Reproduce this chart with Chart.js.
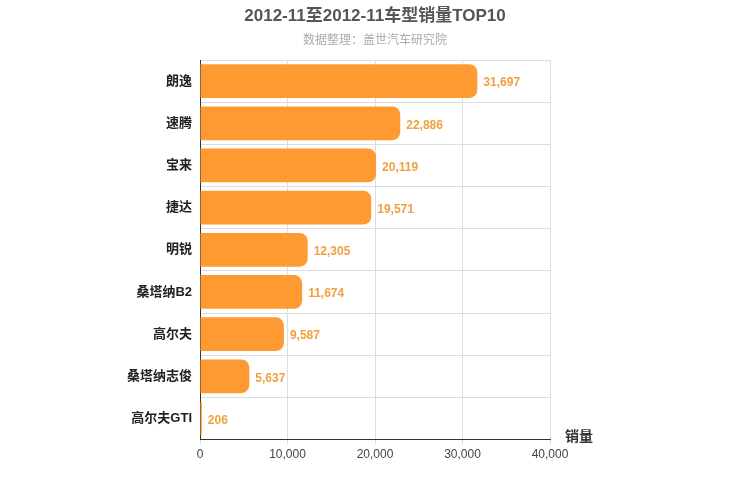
<!DOCTYPE html>
<html><head><meta charset="utf-8">
<script src="https://cdn.jsdelivr.net/npm/chart.js@4/dist/chart.umd.min.js"></script>
<style>body{margin:0;background:#fff}#wrap{width:750px;height:500px}</style>
</head><body><div id="wrap"><canvas id="c"></canvas></div>
<script>
// Car model sales chart.
const models = ['朗逸', '速腾', '宝来', '捷达', '明锐', '桑塔纳B2', '高尔夫', '桑塔纳志俊', '高尔夫GTI'];
const sales = [31697, 22886, 20119, 19571, 12305, 11674, 9587, 5637, 206];
const xTicks = [0, 10000, 20000, 30000, 40000];
const FONT = '"Liberation Sans", "Noto Sans CJK SC", sans-serif';

const extras = {
  id: 'extras',
  afterDatasetsDraw(chart) {
    const ctx = chart.ctx;
    const meta = chart.getDatasetMeta(0);
    ctx.save();
    ctx.font = 'bold 12px ' + FONT; ctx.fillStyle = '#F0A040'; ctx.textBaseline = 'middle';
    meta.data.forEach((b, i) => ctx.fillText(sales[i].toLocaleString('en-US'), b.x + 6, b.y + 2));
    const a = chart.chartArea;
    ctx.font = 'bold 14px ' + FONT; ctx.fillStyle = '#333';
    ctx.fillText('销量', a.right + 15, a.bottom - 2);
    ctx.textAlign = 'center';
    ctx.font = 'bold 17px ' + FONT; ctx.fillStyle = '#555';
    ctx.fillText('2012-11至2012-11车型销量TOP10', 375, 16);
    ctx.font = '12px ' + FONT; ctx.fillStyle = '#aaa';
    ctx.fillText('数据整理：盖世汽车研究院', 375, 41);
    ctx.restore();
  }
};

new Chart(document.getElementById('c'), {
  type: 'bar',
  data: { labels: models, datasets: [{ data: sales, backgroundColor: '#FF9A33', borderRadius: 8, borderSkipped: 'start', barPercentage: 0.8, categoryPercentage: 1 }] },
  options: {
    indexAxis: 'y', animation: false, responsive: true, maintainAspectRatio: false,
    layout: { padding: { left: 0, right: 200, top: 60, bottom: 35 } },
    plugins: { legend: { display: false }, tooltip: { enabled: false } },
    scales: {
      x: { min: 0, max: 40000, afterBuildTicks: (s) => { s.ticks = xTicks.map((v) => ({ value: v })); },
        ticks: { color: '#444', font: { family: FONT, size: 12 }, callback: (v) => v.toLocaleString('en-US') },
        grid: { color: '#ddd', tickLength: 5 }, border: { color: '#333' } },
      y: { afterFit: (s) => { s.width = 200; },
        ticks: { color: '#222', font: { family: FONT, size: 13, weight: 'bold' }, padding: 8 },
        grid: { color: '#ddd', offset: true, tickLength: 0 }, border: { color: '#333' } }
    }
  },
  plugins: [extras]
});
</script></body></html>
